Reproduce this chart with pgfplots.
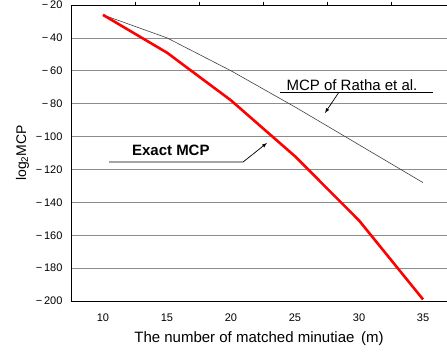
\documentclass[border=0pt]{standalone}
\usepackage{pgfplots}
\pgfplotsset{compat=1.18}
\usepackage{fontspec}
\setmainfont{Liberation Sans}
\begin{document}
\begin{tikzpicture}[x=1pt,y=1pt]
\begin{axis}[
  at={(0,0)}, anchor=south west,
  scale only axis, width=376pt, height=296pt,
  xmin=7.5, xmax=36.875, ymin=-200, ymax=-20,
  axis x line*=bottom, axis y line*=left,
  xtick={10,15,20,25,30,35},
  major tick length=0pt,
  ytick={-200,-180,...,-20},
  yticklabels={−\,200,−\,180,−\,160,−\,140,−\,120,−\,100,−\,80,−\,60,−\,40,−\,20},
  ymajorgrids,
  grid style={gray!90, line width=0.6pt},
  axis line style={black, line width=0.8pt},
  tick style={black},
  ticklabel style={font=\fontsize{11}{13}\selectfont},
  /pgf/number format/assume math mode=true,
  xticklabel style={yshift=-9pt},
  yticklabel style={xshift=-5pt},
  xlabel={The number of matched minutiae\ \,(m)},
  xlabel style={font=\fontsize{15}{17}\selectfont, yshift=-3pt},
  ylabel={log\textsubscript{2}MCP},
  ylabel style={font=\fontsize{14}{16}\selectfont, yshift=0pt},
  clip=false,
]
\addplot[color=black!75, line width=0.6pt] coordinates {
 (10,-26) (15,-40) (20,-60) (25,-82) (30,-105) (35,-128)};
\addplot[color=red, line width=2.6pt] coordinates {
 (10,-26) (15,-49) (20,-78) (25,-112) (30,-151) (35,-199)};
\node[font=\fontsize{15}{17}\selectfont] at (axis cs:29.45,-68.7) {MCP of Ratha et al.};
\draw[black, line width=0.7pt] (axis cs:23.83,-72.9) -- (axis cs:35.78,-72.9);
\draw[black, line width=0.7pt, -latex] (axis cs:28.44,-72.9) -- (axis cs:27.34,-85.7);
\node[font=\bfseries\fontsize{15}{17}\selectfont] at (axis cs:15.3,-108.2) {Exact MCP};
\draw[black, line width=0.7pt, -latex] (axis cs:10.47,-115.5) -- (axis cs:20.94,-115.5) -- (axis cs:22.81,-103.9);
\end{axis}
\begin{axis}[
  at={(0,0)}, anchor=south west,
  scale only axis, width=376pt, height=296pt,
  xmin=7.5, xmax=36.875, ymin=-200, ymax=-20,
  axis x line*=top, hide y axis,
  xtick={12.5,17.5,22.5,27.5,32.5},
  xticklabels={},
  major tick length=3pt, tick align=outside,
  axis line style={black, line width=0.8pt},
  tick style={black, line width=0.6pt},
]
\end{axis}
\pgfresetboundingbox
\path[use as bounding box] (-71,-50) rectangle (376,301);
\end{tikzpicture}
\end{document}
